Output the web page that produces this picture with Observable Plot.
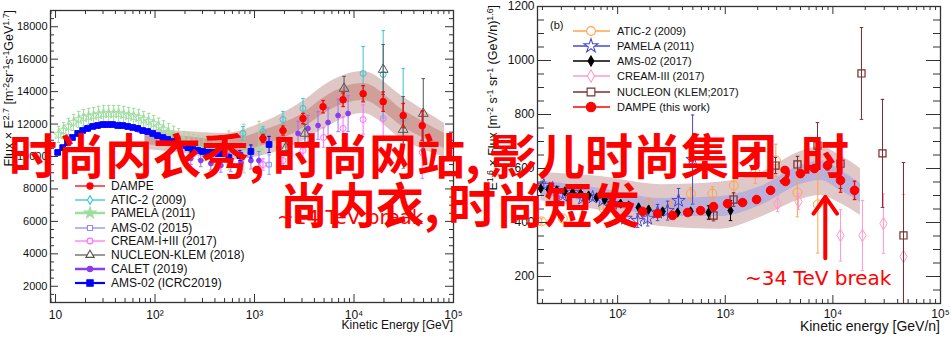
<!DOCTYPE html>
<html><head><meta charset="utf-8">
<script src="https://cdn.jsdelivr.net/npm/d3@7"></script>
<script src="https://cdn.jsdelivr.net/npm/@observablehq/plot@0.6"></script>
<style>
html,body{margin:0;padding:0;background:#fff;}
#wrap{position:relative;width:951px;height:352px;overflow:hidden;font-family:"Liberation Sans",Arial,sans-serif;color:#111;}
.panel{position:absolute;top:0;}
.ylab{position:absolute;transform-origin:0 0;transform:rotate(-90deg);white-space:nowrap;text-align:right;line-height:14px;}
.xlab{position:absolute;white-space:nowrap;text-align:right;}
sup{font-size:70%;vertical-align:0;position:relative;top:-0.5em;}
.big{position:absolute;font-family:"Noto Sans CJK SC";font-weight:700;font-size:48px;line-height:48px;color:#ff0000;white-space:nowrap;}
.big .c{display:inline-block;width:24px;}
.brk{position:absolute;font-family:"DejaVu Sans";font-size:20px;line-height:20px;color:#ff0000;white-space:nowrap;}
svg.ov{position:absolute;left:0;top:0;}
</style></head><body><div id="wrap"></div>
<script>
// ---------------- LEFT PANEL DATA (proton, Flux x E^2.7) ----------------
const L_DAMPE_E   = [1216, 1932, 3070, 4885, 7766, 12350, 19640, 31200, 48500];
const L_DAMPE_F   = [11110, 11600, 12340, 13070, 13500, 13870, 13380, 12520, 11900];
const L_DAMPE_ERR = [250, 280, 320, 380, 420, 500, 600, 750, 900];

const L_ATIC_E   = [764, 1216, 1932, 3070, 12350, 19640, 31200];
const L_ATIC_F   = [11420, 11540, 12280, 12960, 15120, 15060, 12340];
const L_ATIC_ERR = [430, 300, 500, 620, 1660, 2700, 3080];

const L_PAM_E = [10.7, 12.0, 13.5, 15.2, 17.1, 19.1, 21.5, 24.1, 27.1, 30.4, 34.2, 38.4, 43.1, 48.4, 54.3, 61.0, 68.5, 76.9, 86.4, 97.0, 109, 122, 137, 154, 173, 195, 219, 245, 276, 309, 390, 553, 782, 1108];
const L_PAM_F = [11360, 11600, 11850, 12100, 12280, 12400, 12470, 12530, 12590, 12650, 12650, 12650, 12650, 12590, 12530, 12470, 12400, 12280, 12160, 12030, 11850, 11660, 11480, 11290, 11110, 10920, 10800, 10680, 10550, 10490, 10370, 10370, 10490, 10370];
const L_PAM_ERR = [500, 500, 500, 500, 500, 500, 500, 500, 500, 500, 500, 500, 500, 500, 500, 500, 500, 500, 500, 500, 520, 540, 560, 580, 600, 620, 650, 680, 720, 760, 900, 1200, 1500, 1800];

const L_AMS15_E = [20, 30, 45, 70, 100, 150, 230, 350, 550, 900, 1400];
const L_AMS15_F = [11700, 11950, 11880, 11620, 11330, 10820, 10420, 10250, 9950, 10100, 9500];
const L_AMS15_ERR = [0, 0, 0, 0, 0, 0, 0, 200, 300, 400, 600];

const L_CREAM_E   = [1216, 1932, 3070, 4950, 7766, 12350, 19640, 48500];
const L_CREAM_F   = [9510, 9750, 10370, 11170, 11730, 12280, 12340, 10250];
const L_CREAM_ERR = [350, 400, 500, 600, 700, 900, 1100, 1600];

const L_NUC_E   = [2070, 3214, 7943, 19640, 31200, 49660];
const L_NUC_F   = [10550, 11420, 14190, 15360, 11660, 12650];
const L_NUC_ERR = [500, 560, 750, 1540, 2030, 2150];

const L_CALET_E   = [229, 288, 364, 459, 578, 730, 920, 1107, 1761, 2737, 3450, 4349, 5484, 6914, 8718];
const L_CALET_F   = [9880, 9750, 9570, 9450, 9510, 9630, 9750, 9750, 10550, 11420, 11730, 11910, 12100, 12530, 12650];
const L_CALET_ERR = [370, 380, 400, 420, 450, 480, 520, 560, 650, 750, 800, 850, 900, 1000, 1100];

const L_AMS19_E = [10.5, 11.8, 13.2, 14.8, 16.7, 18.7, 21.0, 23.6, 26.5, 29.7, 33.4, 37.5, 42.1, 47.3, 53.1, 59.6, 67.0, 75.2, 84.4, 94.8, 106, 120, 134, 151, 169, 190, 214, 240, 269, 302, 340, 381, 428, 481, 553, 713, 920, 1400];
const L_AMS19_F = [10250, 10550, 10860, 11170, 11420, 11600, 11730, 11850, 11910, 11970, 11970, 11970, 11910, 11910, 11850, 11790, 11730, 11600, 11540, 11420, 11290, 11170, 11050, 10920, 10800, 10680, 10550, 10430, 10370, 10310, 10250, 10250, 10180, 10180, 9940, 10060, 10310, 10740];
const L_AMS19_ERR = [0,0,0,0,0,0,0,0,0,0,0,0,0,0,0,0,0,0,0,0,0,0,0,0,0,0,0,0,0,0,0,0,0,0,200,300,400,500];

const L_BAND_E     = [79.4, 199.5, 501, 1230, 3162, 5012, 12300, 31620, 81280];
const L_BAND_OUTLO = [10430, 10180, 9750, 10060, 10990, 11730, 12650, 10990, 9940];
const L_BAND_OUTHI = [11660, 11540, 11420, 12100, 13450, 14380, 15240, 13640, 12030];
const L_BAND_INLO  = [10740, 10490, 10180, 10680, 11790, 12650, 13450, 11790, 10490];
const L_BAND_INHI  = [11360, 11230, 10990, 11600, 12710, 13640, 14500, 12830, 11420];

const L_X_TICKS = [10, 100, 1000, 10000, 100000];
const L_X_LABELS = ["10", "10²", "10³", "10⁴", "10⁵"];
const L_Y_TICKS = [2000, 4000, 6000, 8000, 10000, 12000, 14000, 16000, 18000];
const L_LEG_LABELS = ["DAMPE", "ATIC-2 (2009)", "PAMELA (2011)", "AMS-02 (2015)", "CREAM-I+III (2017)", "NUCLEON-KLEM (2018)", "CALET (2019)", "AMS-02 (ICRC2019)"];

// ---------------- RIGHT PANEL DATA (helium, Flux x E^1.6) ----------------
const R_ATIC_E   = [19.7, 30.9, 74.1, 195, 309, 479, 759, 1202, 1905, 2951, 4677, 7244];
const R_ATIC_F   = [404, 415, 452, 470, 459, 507, 507, 537, 585, 630, 511, 467];
const R_ATIC_ERR = [10, 12, 15, 18, 20, 22, 25, 30, 40, 60, 90, 180];

const R_PAM_E   = [20.6, 24.9, 30.8, 38.2, 47.3, 58.6, 72.6, 89.9, 118.6, 153.4, 190, 235, 291, 368, 497];
const R_PAM_F   = [537, 526, 500, 511, 489, 493, 481, 470, 415, 407, 415, 437, 444, 481, 633];
const R_PAM_ERR = [8, 8, 8, 8, 8, 9, 10, 12, 20, 25, 28, 30, 35, 45, 165];

const R_AMS_E   = [19.3, 22.9, 27.2, 32.2, 38.2, 45.3, 53.8, 63.8, 75.7, 89.9, 106.6, 126.5, 156.6, 194.1, 261.8, 360.7, 476.4, 699.8, 1119];
const R_AMS_F   = [526, 522, 519, 515, 511, 507, 500, 493, 485, 478, 470, 463, 456, 448, 441, 437, 441, 437, 444];
const R_AMS_ERR = [0, 0, 0, 0, 0, 0, 0, 0, 0, 0, 0, 0, 0, 0, 5, 7, 10, 25, 37];

const R_CREAM_E   = [3062, 4797, 11780, 18820, 29500, 45300];
const R_CREAM_F   = [470, 478, 352, 352, 396, 274];
const R_CREAM_ERR = [30, 30, 95, 130, 110, 230];

const R_NUC_E   = [778, 1194, 2931, 4688, 7194, 11780, 18440, 28900, 45300];
const R_NUC_F   = [426, 485, 611, 615, 685, 618, 952, 656, 352];
const R_NUC_ERR = [20, 25, 30, 30, 85, 92, 170, 200, 270];

const R_DAMPE_E   = [170.6, 235, 324, 447, 590, 778, 1050, 1449, 1954, 2636, 3631, 5000, 6745, 8913, 11780, 15890];
const R_DAMPE_F   = [441, 433, 426, 437, 444, 459, 470, 474, 485, 519, 552, 581, 600, 611, 556, 519];
const R_DAMPE_ERR = [5, 5, 5, 5, 5, 6, 6, 7, 8, 9, 10, 12, 14, 16, 44, 34];

const R_BAND_E     = [19.3, 69.5, 251, 904, 2128, 5012, 7674, 11750, 18030];
const R_BAND_OUTLO = [481, 444, 385, 375, 419, 485, 500, 470, 426];
const R_BAND_OUTHI = [585, 570, 540, 550, 585, 663, 681, 648, 600];
const R_BAND_INLO  = [500, 470, 422, 422, 463, 541, 556, 519, 474];
const R_BAND_INHI  = [555, 526, 489, 496, 533, 611, 630, 593, 544];

const R_ARROW_E = [8500], R_ARROW_FROM = [268], R_ARROW_TO = [495];

const R_X_TICKS = [100, 1000, 10000, 100000];
const R_X_LABELS = ["10²", "10³", "10⁴", "10⁵"];
const R_Y_TICKS = [200, 400, 600, 800, 1000, 1200];
const R_LEG_LABELS = ["ATIC-2 (2009)", "PAMELA (2011)", "AMS-02 (2017)", "CREAM-III (2017)", "NUCLEON (KLEM;2017)", "DAMPE (this work)"];

// ---------------- helpers ----------------
const tbl = (E, F, R) => E.map((e, i) => ({E: e, f: F[i], err: R ? R[i] : 0}));
const band = (E, a, b, c, d) => E.map((e, i) => ({E: e, olo: a[i], ohi: b[i], ilo: c[i], ihi: d[i]}));
const cap = {draw(ctx, size) { const w = Math.sqrt(size) / 2; ctx.moveTo(-w, 0); ctx.lineTo(w, 0); }};

function series(data, o) {
  const withErr = data.filter(d => d.err > 0);
  const ec = o.ecolor || o.color;
  const marks = [
    Plot.ruleX(withErr, {x: "E", y1: d => d.f - d.err, y2: d => d.f + d.err, stroke: ec, strokeWidth: o.ew || 1, clip: true}),
    Plot.dot(withErr, {x: "E", y: d => d.f + d.err, symbol: cap, r: o.cap || 2, stroke: ec, strokeWidth: o.ew || 1, clip: true}),
    Plot.dot(withErr, {x: "E", y: d => d.f - d.err, symbol: cap, r: o.cap || 2, stroke: ec, strokeWidth: o.ew || 1, clip: true}),
    Plot.dot(data, {x: "E", y: "f", symbol: o.symbol, r: o.r, fill: o.open ? "none" : o.color, stroke: o.color, strokeWidth: o.sw || 1})
  ];
  return marks;
}
function logMinor(lo, hi) {
  const out = [];
  for (let k = 0; k <= 5; k++) for (let m = 2; m <= 9; m++) { const v = m * Math.pow(10, k); if (v > lo && v < hi) out.push(v); }
  return out;
}
function linMinor(lo, hi, step, majors) {
  const out = [];
  for (let v = lo; v <= hi; v += step) if (!majors.includes(v)) out.push(v);
  return out;
}
function frameTicks(xMaj, xMin, yMaj, yMin, fw, fh, xl, xs, yl, ys) {
  const st = {stroke: "#333", strokeWidth: 1};
  return [
    Plot.tickY(yMaj, {...st, insetRight: fw - yl}), Plot.tickY(yMaj, {...st, insetLeft: fw - yl}),
    Plot.tickY(yMin, {...st, insetRight: fw - ys}), Plot.tickY(yMin, {...st, insetLeft: fw - ys}),
    Plot.tickX(xMaj, {...st, insetTop: fh - xl}), Plot.tickX(xMaj, {...st, insetBottom: fh - xl}),
    Plot.tickX(xMin, {...st, insetTop: fh - xs}), Plot.tickX(xMin, {...st, insetBottom: fh - xs})
  ];
}

const wrap = document.getElementById("wrap");

// ---------------- LEFT PLOT ----------------
const LW = 475, LH = 352, Lml = 50, Lmr = 22, Lmt = 10, Lmb = 50;
const Lfw = LW - Lml - Lmr, Lfh = LH - Lmt - Lmb;
const LXDOM = [8.9, 100000];
const leftBand = band(L_BAND_E, L_BAND_OUTLO, L_BAND_OUTHI, L_BAND_INLO, L_BAND_INHI);
const left = Plot.plot({
  width: LW, height: LH, marginLeft: Lml, marginRight: Lmr, marginTop: Lmt, marginBottom: Lmb,
  x: {type: "log", domain: LXDOM},
  y: {domain: [1000, 19000]},
  style: {fontFamily: "Liberation Sans, Arial, sans-serif", fontSize: "11px", background: "transparent", color: "#111", overflow: "visible"},
  marks: [
    Plot.areaY(leftBand, {x: "E", y1: "olo", y2: "ohi", fill: "#dec7c5", curve: "monotone-x"}),
    Plot.areaY(leftBand, {x: "E", y1: "ilo", y2: "ihi", fill: "#cf9f9a", curve: "monotone-x"}),
    ...series(tbl(L_PAM_E, L_PAM_F, L_PAM_ERR), {color: "#9ddd9d", symbol: "star", r: 3.2, open: true}),
    ...series(tbl(L_AMS15_E, L_AMS15_F, L_AMS15_ERR), {color: "#8c8cff", symbol: "square", r: 2.6, open: true}),
    ...series(tbl(L_CALET_E, L_CALET_F, L_CALET_ERR), {color: "#8a3cf0", ecolor: "#a070f5", symbol: "circle", r: 2.4}),
    ...series(tbl(L_CREAM_E, L_CREAM_F, L_CREAM_ERR), {color: "#ff6aff", symbol: "circle", r: 3, open: true}),
    ...series(tbl(L_ATIC_E, L_ATIC_F, L_ATIC_ERR), {color: "#38c6cc", symbol: "circle", r: 3, open: true}),
    ...series(tbl(L_NUC_E, L_NUC_F, L_NUC_ERR), {color: "#555", symbol: "triangle", r: 3.6, open: true}),
    ...series(tbl(L_AMS19_E, L_AMS19_F, L_AMS19_ERR), {color: "#0000ff", symbol: "square", r: 3.2}),
    ...series(tbl(L_DAMPE_E, L_DAMPE_F, L_DAMPE_ERR), {color: "#ff0000", symbol: "circle", r: 3.3, ew: 1.3}),
    ...frameTicks(L_X_TICKS.filter(v => v > LXDOM[0]), logMinor(LXDOM[0], LXDOM[1]), L_Y_TICKS, linMinor(1000, 19000, 500, L_Y_TICKS), Lfw, Lfh, 8, 4, 8, 4),
    Plot.frame({stroke: "#333", strokeWidth: 1.3}),
    Plot.axisX({ticks: L_X_TICKS, tickFormat: d => L_X_LABELS[L_X_TICKS.indexOf(d)], tickSize: 0, tickPadding: 8, fontSize: 12, label: null}),
    Plot.axisY({ticks: L_Y_TICKS, tickFormat: d => String(d), tickSize: 0, tickPadding: 3, fontSize: 11, label: null})
  ]
});
left.classList.add("panel"); left.style.left = "0px";
wrap.appendChild(left);

// ---------------- RIGHT PLOT ----------------
const RW = 476, RH = 352, Rml = 62, Rmr = 11, Rmt = 6, Rmb = 49;
const Rfw = RW - Rml - Rmr, Rfh = RH - Rmt - Rmb;
const RXDOM = [18, 100000];
const rightBand = band(R_BAND_E, R_BAND_OUTLO, R_BAND_OUTHI, R_BAND_INLO, R_BAND_INHI);
const arrowData = R_ARROW_E.map((e, i) => ({E: e, from: R_ARROW_FROM[i], to: R_ARROW_TO[i]}));
const right = Plot.plot({
  width: RW, height: RH, marginLeft: Rml, marginRight: Rmr, marginTop: Rmt, marginBottom: Rmb,
  x: {type: "log", domain: RXDOM},
  y: {domain: [100, 1200]},
  style: {fontFamily: "Liberation Sans, Arial, sans-serif", fontSize: "12px", background: "transparent", color: "#111", overflow: "visible"},
  marks: [
    Plot.areaY(rightBand, {x: "E", y1: "olo", y2: "ohi", fill: "#e0c8c8", curve: "monotone-x"}),
    Plot.areaY(rightBand, {x: "E", y1: "ilo", y2: "ihi", fill: "#b9b1da", curve: "monotone-x"}),
    ...series(tbl(R_ATIC_E, R_ATIC_F, R_ATIC_ERR), {color: "#ffa347", symbol: "circle", r: 4.5, open: true}),
    ...series(tbl(R_PAM_E, R_PAM_F, R_PAM_ERR), {color: "#4848d4", symbol: "star", r: 4.2, open: true}),
    ...series(tbl(R_CREAM_E, R_CREAM_F, R_CREAM_ERR), {color: "#ff9acb", symbol: "diamond", r: 3.8, open: true}),
    ...series(tbl(R_NUC_E, R_NUC_F, R_NUC_ERR), {color: "#7b2c2c", symbol: "square", r: 4, open: true, sw: 1.2}),
    ...series(tbl(R_AMS_E, R_AMS_F, R_AMS_ERR), {color: "#000", symbol: "diamond", r: 2.8}),
    ...series(tbl(R_DAMPE_E, R_DAMPE_F, R_DAMPE_ERR), {color: "#ff0000", symbol: "circle", r: 4.3, ew: 1.3}),
    Plot.arrow(arrowData, {x1: "E", x2: "E", y1: "from", y2: "to", stroke: "#ff0000", strokeWidth: 4, headLength: 17, headAngle: 70}),
    ...frameTicks(R_X_TICKS, logMinor(RXDOM[0], RXDOM[1]), R_Y_TICKS, linMinor(100, 1200, 50, R_Y_TICKS), Rfw, Rfh, 8, 4, 14, 7),
    Plot.frame({stroke: "#333", strokeWidth: 1.3}),
    Plot.axisX({ticks: R_X_TICKS, tickFormat: d => R_X_LABELS[R_X_TICKS.indexOf(d)], tickSize: 0, tickPadding: 6, fontSize: 12, label: null}),
    Plot.axisY({ticks: R_Y_TICKS, tickFormat: d => String(d), tickSize: 0, tickPadding: 3, fontSize: 12, label: null})
  ]
});
right.classList.add("panel"); right.style.left = "475px";
wrap.appendChild(right);

// ---------------- axis titles ----------------
wrap.insertAdjacentHTML("beforeend", `
<div class="ylab" style="left:2px;top:220px;width:210px;font-size:12.5px;">Flux &times; E<sup>2.7</sup> [m<sup>-2</sup>sr<sup>-1</sup>s<sup>-1</sup>GeV<sup>1.7</sup>]</div>
<div class="xlab" style="left:253px;top:318px;width:200px;font-size:12px;">Kinetic Energy [GeV]</div>
<div class="ylab" style="left:486px;top:225px;width:220px;font-size:12.5px;">E<sup>1.6</sup> &times; Flux [m<sup>-2</sup> s<sup>-1</sup> sr<sup>-1</sup> (GeV/n)<sup>1.6</sup>]</div>
<div class="xlab" style="left:690px;top:318px;width:250px;font-size:14px;">Kinetic energy [GeV/n]</div>
<div class="xlab" style="left:550px;top:19px;font-size:11px;text-align:left;">(b)</div>
`);

// ---------------- legends ----------------
const ov = d3.create("svg").attr("class", "ov").attr("width", 951).attr("height", 352)
  .style("font-family", "Liberation Sans, Arial, sans-serif");
const SYM = {circle: d3.symbolCircle, square: d3.symbolSquare, diamond: d3.symbolDiamond, star: d3.symbolStar, triangle: d3.symbolTriangle};
function legendRow(x1, x2, xm, xt, y, color, sym, size, open, lw, label, fs) {
  ov.append("line").attr("x1", x1).attr("x2", x2).attr("y1", y).attr("y2", y).attr("stroke", color).attr("stroke-width", lw);
  ov.append("path").attr("d", d3.symbol(SYM[sym], size)()).attr("transform", `translate(${xm},${y})`)
    .attr("fill", open ? "#fff" : color).attr("stroke", color).attr("stroke-width", 1.1);
  ov.append("text").attr("x", xt).attr("y", y + fs * 0.36).attr("font-size", fs).attr("fill", "#111").text(label);
}
const L_LEG_Y = [186, 200, 213, 228, 241, 255, 269, 283];
const L_LEG_STYLE = [
  ["#ff0000", "circle", 30, false, 1.3], ["#38c6cc", "diamond", 22, true, 1.3], ["#9ddd9d", "star", 40, false, 2.5],
  ["#8c8cff", "square", 26, true, 1.3], ["#ff6aff", "circle", 26, true, 1.2], ["#555", "triangle", 30, true, 1.2],
  ["#8a3cf0", "circle", 22, false, 2.5], ["#0000ff", "square", 40, false, 2.2]];
L_LEG_LABELS.forEach((t, i) => { const s = L_LEG_STYLE[i]; legendRow(75, 105, 90, 111, L_LEG_Y[i], s[0], s[1], s[2], s[3], s[4], t, 12); });
if (L_LEG_STYLE[6]) ov.select(null);
const R_LEG_Y = [31, 46, 61, 76, 92, 107];
const R_LEG_STYLE = [
  ["#ffa347", "circle", 60, true, 1.3], ["#4848d4", "star", 60, true, 1.3], ["#000", "diamond", 30, false, 1.3],
  ["#ff9acb", "diamond", 45, true, 1.3], ["#7b2c2c", "square", 60, true, 1.3], ["#ff0000", "circle", 70, false, 1.3]];
R_LEG_LABELS.forEach((t, i) => { const s = R_LEG_STYLE[i]; legendRow(573, 610, 591, 617, R_LEG_Y[i], s[0], s[1], s[2], s[3], s[4], t, 11); });
wrap.appendChild(ov.node());

// ---------------- annotations ----------------
wrap.insertAdjacentHTML("beforeend", `
<div class="brk" style="left:277px;top:207px;">~14 TeV break</div>
<div class="brk" style="left:745px;top:268px;">~34 TeV break</div>
<div class="big" style="left:9px;top:129px;">时尚内衣秀<span class="c">,</span>时尚网站<span class="c">,</span>影儿时尚集团<span class="c">,</span>时</div>
<div class="big" style="left:280px;top:178px;">尚内衣<span class="c">,</span>时尚短发</div>
`);
</script></body></html>
